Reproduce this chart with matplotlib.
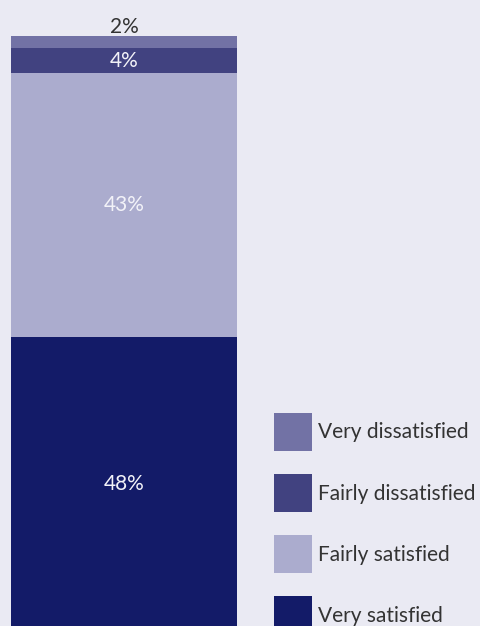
import matplotlib
matplotlib.use('Agg')
import matplotlib.pyplot as plt
from matplotlib.patches import Patch

# Satisfaction shares, stacked bottom to top
categories = ['Very satisfied', 'Fairly satisfied', 'Fairly dissatisfied', 'Very dissatisfied']
values = [48, 43, 4, 2]
colors = ['#131b68', '#abacce', '#414280', '#7272a5']
label_colors = ['#f2f2f8', '#f2f2f8', '#f2f2f8', '#333333']

bg = '#eaeaf3'
font = ['Lato', 'DejaVu Sans']
fs = 15

fig = plt.figure(figsize=(4.81, 6.26), dpi=100, facecolor=bg)
ax = fig.add_axes([0, 0, 1, 1])
ax.set_facecolor(bg)

bottom = 0
for cat, val, col, lc in zip(categories, values, colors, label_colors):
    ax.bar(0, val, width=1, bottom=bottom, color=col, linewidth=0)
    if val >= 4:
        ax.text(0, bottom + val / 2, f'{val}%', ha='center', va='center',
                color=lc, fontsize=fs, family=font)
    else:
        # small segment gets its label above the bar
        ax.text(0, bottom + val + 1.5, f'{val}%', ha='center', va='center',
                color=lc, fontsize=fs, family=font)
    bottom += val

ax.set_xlim(-0.5487, 1.5796)
ax.set_ylim(0.9, 102.9)
ax.axis('off')

# Legend, top entry first
handles = [Patch(facecolor=c, edgecolor='none') for c in colors[::-1]]
leg = ax.legend(handles, categories[::-1], loc='upper left',
                bbox_to_anchor=(274 / 481, 1 - 413 / 626), bbox_transform=fig.transFigure,
                frameon=False, borderpad=0, borderaxespad=0,
                handlelength=1.824, handleheight=2.43, handletextpad=0.3,
                labelspacing=1.11, prop={'family': font, 'size': fs})
for t in leg.get_texts():
    t.set_color('#333333')

fig.savefig('out.png', dpi=100, facecolor=bg)
